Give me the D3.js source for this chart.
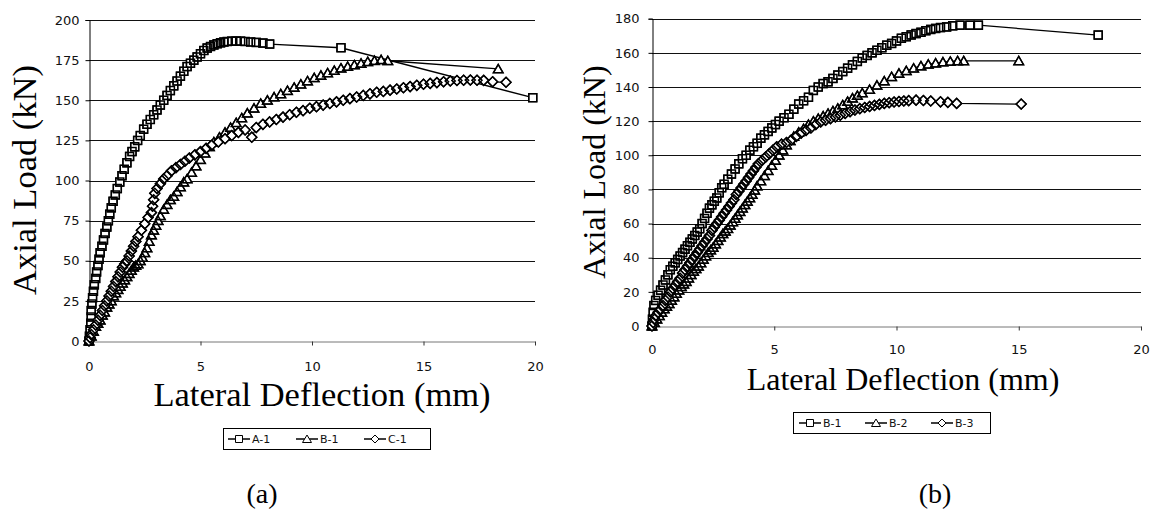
<!DOCTYPE html>
<html><head><meta charset="utf-8">
<script src="https://cdn.jsdelivr.net/npm/d3@7"></script>
<style>body{margin:0;background:#fff}</style>
</head><body><svg id="c" width="1151" height="525"></svg>
<script>
// ---------- data ----------
const xTickValues = [0, 5, 10, 15, 20];
const yTickValuesA = [0, 25, 50, 75, 100, 125, 150, 175, 200];
const yTickValuesB = [0, 20, 40, 60, 80, 100, 120, 140, 160, 180];
const legendNamesA = ["A-1", "B-1", "C-1"];
const legendNamesB = ["B-1", "B-2", "B-3"];
const xTitle = "Lateral Deflection (mm)";
const yTitle = "Axial Load (kN)";
const captions = ["(a)", "(b)"];

// chart (a)
const serA1 = [[0,0],[0.02,3],[0.05,7],[0.08,11],[0.1,15],[0.1,19],[0.13,23],[0.16,27],[0.2,31],[0.24,35],[0.3,39],[0.34,43],[0.4,47],[0.45,51],[0.5,55],[0.58,59],[0.65,63],[0.72,67],[0.8,71],[0.87,75],[0.93,79],[1.0,83],[1.08,87],[1.18,91],[1.27,95],[1.38,99],[1.48,103],[1.58,107],[1.7,111],[1.82,115],[1.93,118],[2.05,121],[2.18,125],[2.3,128],[2.45,132],[2.6,135],[2.75,138],[2.9,141],[3.05,144],[3.2,147],[3.35,150],[3.5,153],[3.65,156],[3.8,159],[3.95,162],[4.1,165],[4.25,168],[4.4,171],[4.55,173],[4.7,175],[4.85,177],[5.0,179],[5.15,181],[5.3,182.5],[5.45,183.5],[5.6,184.5],[5.75,185.2],[5.9,185.8],[6.05,186.3],[6.2,186.6],[6.4,186.8],[6.6,186.8],[6.8,186.8],[7.0,186.6],[7.25,186.3],[7.5,186],[7.8,185.6],[8.1,185],[11.3,182.7],[19.9,151.6]];
const serB1a = [[0,0],[0.1,3],[0.2,6],[0.3,9],[0.4,11],[0.5,13],[0.6,16],[0.7,18],[0.8,21],[0.9,23],[1.0,25],[1.1,28],[1.2,30],[1.3,32],[1.4,34],[1.5,36],[1.6,38],[1.7,40],[1.8,42],[1.9,44],[2.0,46],[2.1,47],[2.2,48],[2.3,50],[2.4,52],[2.5,55],[2.6,58],[2.7,62],[2.8,66],[2.9,69],[3.0,72],[3.1,75],[3.2,78],[3.35,82],[3.5,85],[3.65,88],[3.8,90],[3.95,93],[4.1,96],[4.25,99],[4.4,101],[4.6,105],[4.8,109],[5.0,113],[5.2,117],[5.4,121],[5.6,124],[5.85,127],[6.1,130],[6.35,133],[6.6,136],[6.85,139],[7.1,142],[7.4,145],[7.7,148],[8.0,150],[8.3,152],[8.6,154],[8.9,156],[9.2,158],[9.5,160],[9.8,162],[10.1,164],[10.4,165.5],[10.7,167],[11.0,168.5],[11.3,170],[11.6,171],[11.9,172],[12.2,173],[12.5,174],[12.8,174.7],[13.1,175.2],[13.4,174.6],[18.35,169.5]];
const serC1 = [[0,0],[0.05,2],[0.1,4],[0.2,7],[0.3,10],[0.4,13],[0.5,16],[0.6,19],[0.7,22],[0.8,25],[0.9,28],[1.0,31],[1.1,34],[1.2,37],[1.3,40],[1.4,43],[1.5,46],[1.6,48],[1.7,50],[1.8,53],[1.9,56],[2.0,59],[2.1,62],[2.2,65],[2.35,69],[2.5,73],[2.65,77],[2.8,80],[2.85,84],[2.9,88],[2.95,92],[3.05,95],[3.2,98],[3.35,101],[3.5,103],[3.7,106],[3.9,108],[4.1,110],[4.3,112],[4.5,114],[4.75,116],[5.0,118],[5.25,120],[5.5,122],[5.8,124],[6.1,126],[6.4,128],[6.7,130],[7.0,131.5],[7.3,127],[7.5,133],[7.8,135],[8.1,136.5],[8.4,138],[8.7,139.5],[9.0,141],[9.3,142.5],[9.6,143.5],[9.9,145],[10.2,146],[10.5,147],[10.8,148],[11.1,149],[11.4,150],[11.7,151],[12.0,152],[12.3,153],[12.6,154],[12.9,155],[13.2,155.5],[13.5,156.3],[13.8,157],[14.1,157.8],[14.4,158.5],[14.7,159.3],[15.0,160],[15.3,160.5],[15.6,161],[15.9,161.5],[16.2,162],[16.5,162.3],[16.8,162.5],[17.1,162.6],[17.4,162.5],[17.7,162.4],[18.1,161.5],[18.7,161.2]];

// chart (b)
const serB1 = [[0,0],[0.02,4],[0.05,8],[0.08,12],[0.15,15],[0.25,18],[0.35,21],[0.45,24],[0.55,27],[0.65,30],[0.75,33],[0.85,35],[0.95,37],[1.05,39],[1.15,41],[1.25,43],[1.35,45],[1.45,47],[1.55,49],[1.65,51],[1.75,53],[1.85,55],[1.95,57],[2.05,60],[2.15,63],[2.25,66],[2.35,69],[2.45,71],[2.55,73],[2.65,75],[2.75,78],[2.85,81],[2.95,83],[3.1,86],[3.25,89],[3.4,92],[3.55,95],[3.7,98],[3.85,100],[4.0,103],[4.15,105],[4.3,107],[4.45,110],[4.6,112],[4.75,114],[4.9,116],[5.05,118],[5.2,120],[5.4,122],[5.6,124],[5.8,127],[6.0,130],[6.2,132],[6.4,134],[6.6,138],[6.8,140],[7.0,142],[7.2,143],[7.4,145],[7.6,147],[7.8,149],[8.0,151],[8.2,153],[8.4,155],[8.6,157],[8.8,158.5],[9.0,160],[9.2,161.5],[9.4,163],[9.6,164.5],[9.8,165.5],[10.0,167],[10.2,168.5],[10.4,169.5],[10.6,170.5],[10.8,171.3],[11.0,172],[11.2,173],[11.4,173.7],[11.6,174.3],[11.8,174.8],[12.05,175.2],[12.3,175.8],[12.6,176.2],[13.0,176.2],[13.35,176.2],[18.25,170.4]];
const serB2 = [[0,0],[0.1,2],[0.2,4],[0.3,6],[0.4,8],[0.5,10],[0.6,11.5],[0.7,13],[0.8,15],[0.9,17],[1.0,19],[1.1,21],[1.2,23],[1.3,24.5],[1.4,26],[1.5,28],[1.6,30],[1.7,32],[1.8,33.5],[1.9,35],[2.0,37],[2.1,39],[2.2,41],[2.3,43],[2.4,44.5],[2.5,46],[2.6,48],[2.7,50],[2.8,52],[2.9,54],[3.0,55.5],[3.1,57],[3.2,59],[3.3,61],[3.4,63],[3.5,65],[3.6,67],[3.7,69],[3.8,71],[3.9,73],[4.0,75],[4.1,77],[4.2,79.5],[4.3,82],[4.45,85],[4.6,88],[4.75,91],[4.9,94],[5.05,97],[5.2,100],[5.35,103],[5.5,106],[5.65,108.5],[5.8,111],[6.0,113.5],[6.2,115.5],[6.4,118],[6.6,120],[6.8,121.5],[7.0,123],[7.2,124.5],[7.4,126],[7.6,127.5],[7.8,129.5],[8.0,131.5],[8.2,133.5],[8.4,135],[8.6,136.5],[8.9,138.5],[9.2,141],[9.5,143.5],[9.8,146],[10.1,148],[10.4,149.5],[10.7,151],[11.0,152.3],[11.3,153.3],[11.6,154],[11.9,154.6],[12.2,155],[12.5,155.3],[12.75,155.3],[15.0,155.3]];
const serB3 = [[0,0],[0.05,2],[0.1,4],[0.15,6],[0.25,8],[0.35,10],[0.45,12],[0.55,15],[0.65,17],[0.75,20],[0.85,22],[0.95,24],[1.05,26],[1.15,28],[1.25,31],[1.35,33],[1.45,35],[1.55,37],[1.65,39],[1.75,41],[1.85,43],[1.95,45],[2.05,47],[2.15,49],[2.25,51],[2.35,53],[2.45,56],[2.55,58],[2.65,60],[2.75,62],[2.85,64],[2.95,66],[3.05,68],[3.15,70],[3.25,72],[3.35,74],[3.45,77],[3.55,79],[3.65,81],[3.75,83],[3.85,85],[3.95,87],[4.05,89],[4.15,91],[4.25,93],[4.35,95],[4.5,97],[4.65,99],[4.8,101],[4.95,103],[5.1,105],[5.3,106.5],[5.5,107.5],[5.7,109],[5.9,111],[6.1,113],[6.3,114.5],[6.5,116],[6.7,118],[6.9,119.5],[7.1,120.5],[7.3,121.5],[7.5,122.5],[7.7,123.5],[7.9,124.5],[8.1,125.5],[8.3,126.5],[8.5,127.3],[8.7,128],[8.9,128.6],[9.1,129.2],[9.3,129.8],[9.5,130.4],[9.7,130.8],[9.9,131.2],[10.1,131.5],[10.3,131.8],[10.5,132],[10.8,132.3],[11.1,132.1],[11.4,131.8],[11.8,131.3],[12.1,131],[12.46,130.4],[15.1,130]];

// ---------- drawing ----------
const svg = d3.select("#c");
svg.append("rect").attr("width",1151).attr("height",525).attr("fill","#fff");

const shapes = {
  square: "M-4,-4H4V4H-4Z",
  triangle: "M0,-4.5L4.8,3.8H-4.8Z",
  diamond: "M0,-5L5,0L0,5L-5,0Z"
};
const shapesSmall = {
  square: "M-3.5,-3.5H3.5V3.5H-3.5Z",
  triangle: "M0,-4L4.5,3.5H-4.5Z",
  diamond: "M0,-4L4,0L0,4L-4,0Z"
};
const tickFont = "'DejaVu Sans', Verdana, sans-serif";
const serifFont = "'Liberation Serif', 'Times New Roman', serif";

function drawChart(cfg) {
  const g = svg.append("g");
  const x = d3.scaleLinear().domain([0, 20]).range([cfg.x0, cfg.x1]);
  const y = d3.scaleLinear().domain([0, cfg.ymax]).range([cfg.y0, cfg.y1]);

  // gridlines
  g.append("g").selectAll("line").data(cfg.yTicks.filter(v => v > 0)).join("line")
    .attr("x1", cfg.x0).attr("x2", cfg.x1)
    .attr("y1", d => Math.round(y(d)) + 0.5).attr("y2", d => Math.round(y(d)) + 0.5)
    .attr("stroke", "#111").attr("stroke-width", 1);

  // y axis
  const ya = g.append("g").attr("transform", `translate(${cfg.x0 + 0.5},0)`)
    .call(d3.axisLeft(y).tickValues(cfg.yTicks).tickSize(4).tickPadding(cfg.yPad).tickFormat(d3.format("d")));
  ya.select(".domain").attr("stroke", "#000");
  ya.selectAll(".tick line").attr("stroke", "#000");
  ya.selectAll("text").attr("font-family", tickFont).attr("font-size", 13).attr("fill", "#111");

  // x axis
  const xa = g.append("g").attr("transform", `translate(0,${Math.round(cfg.y0) + 0.5})`)
    .call(d3.axisBottom(x).tickValues(xTickValues).tickSize(4).tickPadding(cfg.xPad).tickSizeOuter(0).tickFormat(d3.format("d")));
  xa.select(".domain").attr("stroke", "#777");
  xa.selectAll(".tick line").attr("stroke", "#333");
  xa.selectAll("text").attr("font-family", tickFont).attr("font-size", 13).attr("fill", "#111");

  // series: line, white-filled markers, then outlines on top (dense overlapping look)
  const line = d3.line().x(d => x(d[0])).y(d => y(d[1]));
  cfg.series.forEach(s => {
    const sg = g.append("g");
    sg.append("path").datum(s.data).attr("d", line)
      .attr("fill", "none").attr("stroke", "#000").attr("stroke-width", 1.3);
    sg.selectAll("path.m").data(s.data).join("path").attr("class", "m")
      .attr("d", shapes[s.shape])
      .attr("transform", d => `translate(${x(d[0])},${y(d[1])})`)
      .attr("fill", "#fff").attr("stroke", "#000").attr("stroke-width", 1.2);
    sg.selectAll("path.o").data(s.data).join("path").attr("class", "o")
      .attr("d", shapes[s.shape])
      .attr("transform", d => `translate(${x(d[0])},${y(d[1])})`)
      .attr("fill", "none").attr("stroke", "#000").attr("stroke-width", 1.5);
  });

  // axis titles
  g.append("text").attr("x", cfg.xtX).attr("y", cfg.xtY).attr("text-anchor", "middle")
    .attr("font-family", serifFont).attr("font-size", cfg.titleSize).attr("fill", "#000").text(xTitle);
  g.append("text").attr("transform", `translate(${cfg.ytX},${cfg.ytY}) rotate(-90)`).attr("text-anchor", "middle")
    .attr("font-family", serifFont).attr("font-size", cfg.titleSize).attr("fill", "#000").text(yTitle);

  // legend
  const lg = g.append("g");
  lg.append("rect").attr("x", cfg.lx + 0.5).attr("y", cfg.ly + 0.5).attr("width", cfg.lw).attr("height", cfg.lh)
    .attr("fill", "#fff").attr("stroke", "#000").attr("stroke-width", 1);
  const cy = cfg.ly + cfg.lh / 2 + 0.5;
  cfg.series.forEach((s, i) => {
    const ex = cfg.lx + cfg.lpad + i * cfg.lpitch;
    lg.append("line").attr("x1", ex).attr("x2", ex + 22).attr("y1", cy).attr("y2", cy)
      .attr("stroke", "#000").attr("stroke-width", 1.5);
    lg.append("path").attr("d", shapesSmall[s.shape]).attr("transform", `translate(${ex + 11},${cy})`)
      .attr("fill", "#fff").attr("stroke", "#000").attr("stroke-width", 1);
    lg.append("text").attr("x", ex + 24).attr("y", cy + 4).attr("font-family", tickFont)
      .attr("font-size", 11).attr("fill", "#111").text(cfg.names[i]);
  });

  // caption
  g.append("text").attr("x", cfg.capX).attr("y", 503).attr("text-anchor", "middle")
    .attr("font-family", serifFont).attr("font-size", 28).attr("fill", "#000").text(cfg.caption);
}

drawChart({
  x0: 89, x1: 535, y0: 341, y1: 20, ymax: 200, yTicks: yTickValuesA, yPad: 6, xPad: 16,
  series: [{data: serA1, shape: "square"}, {data: serB1a, shape: "triangle"}, {data: serC1, shape: "diamond"}],
  names: legendNamesA, titleSize: 34.5,
  xtX: 322, xtY: 406, ytX: 36, ytY: 180,
  lx: 223, ly: 428, lw: 207, lh: 21, lpad: 5, lpitch: 68,
  capX: 262, caption: captions[0]
});
drawChart({
  x0: 652, x1: 1141, y0: 326, y1: 18.7, ymax: 180, yTicks: yTickValuesB, yPad: 9, xPad: 14,
  series: [{data: serB1, shape: "square"}, {data: serB2, shape: "triangle"}, {data: serB3, shape: "diamond"}],
  names: legendNamesB, titleSize: 32,
  xtX: 903, xtY: 390, ytX: 605, ytY: 172,
  lx: 793, ly: 412, lw: 197, lh: 21, lpad: 6, lpitch: 66,
  capX: 935, caption: captions[1]
});
</script>
</body></html>
